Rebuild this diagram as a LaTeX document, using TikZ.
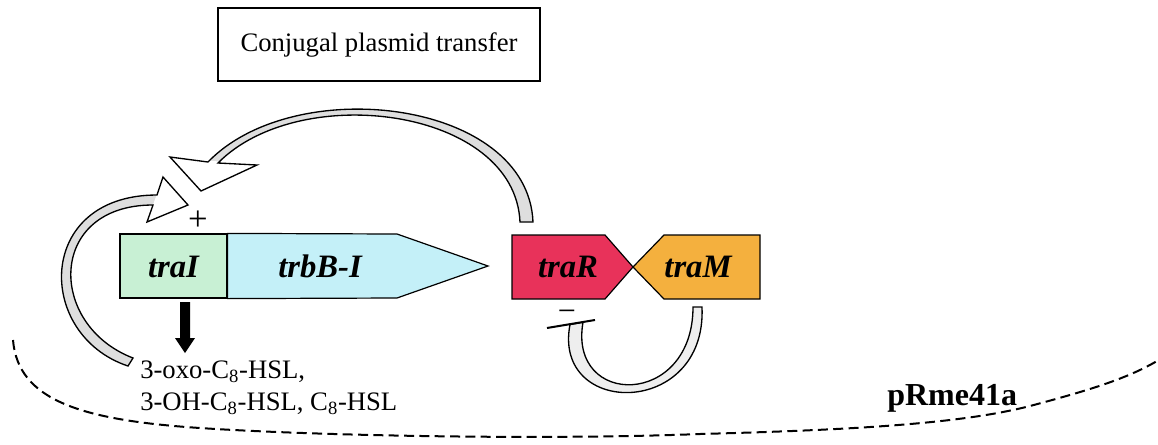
\documentclass[tikz,border=0pt]{standalone}
\usepackage{fontspec}
\setmainfont{Liberation Serif}
\usetikzlibrary{calc}

\definecolor{traIcol}{RGB}{200,240,212}
\definecolor{trbBcol}{RGB}{196,240,248}
\definecolor{traRcol}{RGB}{232,50,90}
\definecolor{traMcol}{RGB}{244,176,62}
\definecolor{tubecol}{RGB}{222,222,222}
\definecolor{tubelight}{RGB}{238,238,238}

\begin{document}
\begin{tikzpicture}[x=0.75pt,y=-0.75pt,
  genebox/.style={draw=black, line width=0.9pt, line join=miter},
  genelabel/.style={font=\fontsize{24.5}{28}\selectfont\bfseries\itshape, anchor=base, inner sep=0pt},
  smalltext/.style={font=\fontsize{20}{24}\selectfont, anchor=base west, inner sep=0pt},
  outline/.style={draw=black, line width=1pt, line join=miter},
  plasmid/.style={draw=black, line width=1.5pt, dash pattern=on 7.5pt off 4pt}]

\useasboundingbox (0,0) rectangle (1158,444);

% plasmid backbone
\draw[plasmid] (13,340) .. controls (18,400) and (80,420) .. (200,428)
  .. controls (320,436) and (550,440) .. (700,434)
  .. controls (850,430) and (960,424) .. (1030,406)
  .. controls (1090,390) and (1130,378) .. (1162,358);
\node[font=\fontsize{24}{28}\selectfont\bfseries, anchor=base west, inner sep=0pt] (plasmidname) at (887,405) {pRme41a};

% phenotype box
\node[draw=black, line width=0.8pt, minimum width=322*0.75pt, minimum height=73*0.75pt,
      font=\fontsize{20}{24}\selectfont, inner sep=0pt] (conj) at (379,44.5) {Conjugal plasmid transfer};

% genes
\node[genebox, fill=traIcol, minimum width=107*0.75pt, minimum height=64*0.75pt, inner sep=0pt] (traI) at (173.5,266) {};
\draw[genebox, fill=trbBcol] (traI.north east) -- (397,234) -- (488,266) -- (397,298) -- (traI.south east) -- cycle;
\coordinate (junction) at (633,267);
\draw[genebox, fill=traRcol] (512,235) -- (605,235) -- (junction) -- (605,299) -- (512,299) -- cycle;
\draw[genebox, fill=traMcol] (junction) -- (664,235) -- (760,235) -- (760,299) -- (664,299) -- cycle;

\node[genelabel] (traIlab) at (173.5,277) {traI};
\node[genelabel] (trbBlab) at (320,277) {trbB-I};
\node[genelabel] (traRlab) at (568,277) {traR};
\node[genelabel] (traMlab) at (698,277) {traM};

% signal molecules
\node[smalltext] (hslA) at (140,378) {3-oxo-C\textsubscript{8}-HSL,};
\node[smalltext] (hslB) at (140,410) {3-OH-C\textsubscript{8}-HSL, C\textsubscript{8}-HSL};

% synthesis arrow from traI to the signals
\coordinate (synTop) at (185,302);
\fill[black] ($(synTop)+(-5,0)$) -- ($(synTop)+(5,0)$) -- ($(synTop)+(5,36)$) -- ($(synTop)+(10,36)$)
  -- ($(synTop)+(0,51)$) -- ($(synTop)+(-10,36)$) -- ($(synTop)+(-5,36)$) -- cycle;

% signs
\node[font=\fontsize{26}{28}\selectfont, inner sep=0pt] (plus) at (198,221) {+};
\node[font=\fontsize{24}{28}\selectfont, inner sep=0pt] (minus) at (567,316) {\symbol{"2212}};

% activation by TraR
\fill[tubecol] (533,222) .. controls (528,100) and (295,72) .. (208,162) -- (218,163)
  .. controls (300,80) and (515,108) .. (520,222) -- cycle;
\fill[white] (170,157) -- (201,191) -- (257,165) -- cycle;
\draw[outline] (520,222) -- (533,222) .. controls (528,100) and (295,72) .. (208,162)
  -- (170,157) -- (201,191) -- (257,165) -- (218,163)
  .. controls (300,80) and (515,108) .. (520,222) -- cycle;

% activation by the signals
\fill[tubecol] (128,366) .. controls (35,335) and (35,195) .. (157,195) -- (153,205)
  .. controls (47,205) and (47,325) .. (133,358) -- cycle;
\fill[white] (163,177) -- (188,205) -- (147,222) -- cycle;
\draw[outline] (128,366) .. controls (35,335) and (35,195) .. (157,195)
  -- (163,177) -- (188,205) -- (147,222) -- (153,205)
  .. controls (47,205) and (47,325) .. (133,358) -- cycle;

% repression of traR by TraM
\draw[outline, fill=tubelight] (702,307) .. controls (707,418) and (552,418) .. (570,324.5)
  -- (583,322.3) .. controls (568,408) and (693,408) .. (693,307) -- cycle;
\draw[line width=1.5pt] (547,328) -- (595,320);

\end{tikzpicture}
\end{document}
